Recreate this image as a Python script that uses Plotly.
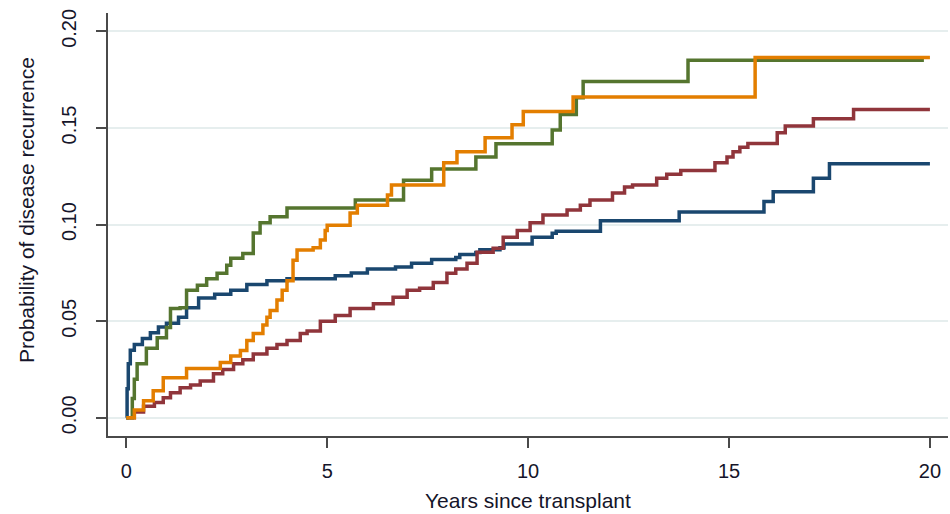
import plotly.graph_objects as go

# ---- data ----
blue_x = [0, 0.02, 0.05, 0.1, 0.2, 0.4, 0.6, 0.8, 1.0, 1.3, 1.5, 1.8, 2.2, 2.6, 3.0, 3.5,
          4.0, 5.2, 5.6, 6.0, 6.7, 7.1, 7.6, 8.2, 8.3, 8.7, 8.8, 9.3, 9.4, 10.1, 10.6, 10.7,
          11.8, 13.76, 15.87, 16.1, 17.1, 17.5, 20]
blue_y = [0, 0.015, 0.028, 0.035, 0.038, 0.041, 0.044, 0.047, 0.049, 0.052, 0.057, 0.062,
          0.064, 0.066, 0.069, 0.071, 0.072, 0.0735, 0.075, 0.077, 0.078, 0.080, 0.082, 0.083,
          0.0845, 0.0855, 0.087, 0.088, 0.090, 0.0935, 0.0955, 0.0966, 0.102, 0.1065, 0.112,
          0.117, 0.124, 0.1315, 0.1315]

red_x = [0, 0.2, 0.43, 0.7, 0.92, 1.1, 1.34, 1.6, 1.84, 2.17, 2.4, 2.67, 2.9, 3.16, 3.5, 3.75,
         4.0, 4.33, 4.5, 4.83, 5.2, 5.57, 6.15, 6.64, 6.99, 7.3, 7.64, 7.98, 8.2, 8.48, 8.73,
         9.13, 9.38, 9.73, 10.05, 10.37, 10.97, 11.3, 11.54, 12.1, 12.4, 12.6, 13.2, 13.45,
         13.8, 14.65, 14.95, 15.1, 15.27, 15.47, 16.2, 16.4, 17.1, 18.1, 20]
red_y = [0, 0.003, 0.006, 0.008, 0.0104, 0.013, 0.0156, 0.017, 0.019, 0.0228, 0.025, 0.028,
         0.030, 0.033, 0.036, 0.038, 0.040, 0.0436, 0.045, 0.050, 0.053, 0.0566, 0.059, 0.0624,
         0.066, 0.067, 0.070, 0.0748, 0.077, 0.080, 0.0857, 0.0878, 0.0935, 0.097, 0.101,
         0.105, 0.1075, 0.110, 0.1127, 0.1163, 0.1195, 0.1205, 0.124, 0.126, 0.128, 0.132,
         0.135, 0.1377, 0.140, 0.142, 0.1475, 0.151, 0.1548, 0.1595, 0.1595]

green_x = [0, 0.15, 0.2, 0.27, 0.5, 0.77, 1.0, 1.1, 1.34, 1.5, 1.77, 2.0, 2.26, 2.5, 2.6, 2.9,
           3.16, 3.33, 3.58, 4.0, 5.7, 6.9, 7.6, 8.7, 9.2, 10.6, 10.8, 11.2, 11.37, 13.98, 19.85]
green_y = [0, 0.01, 0.02, 0.028, 0.036, 0.0415, 0.0467, 0.0566, 0.057, 0.066, 0.0686, 0.072,
           0.0748, 0.079, 0.0826, 0.085, 0.0956, 0.101, 0.104, 0.1086, 0.1127, 0.123, 0.1288,
           0.135, 0.1418, 0.149, 0.157, 0.1657, 0.174, 0.185, 0.185]

orange_x = [0, 0.2, 0.43, 0.67, 0.92, 1.5, 2.34, 2.6, 2.84, 3.0, 3.16, 3.4, 3.5, 3.58, 3.75,
            3.88, 4.0, 4.15, 4.25, 4.65, 4.83, 4.95, 5.0, 5.57, 5.75, 6.5, 6.6, 7.9, 8.23,
            8.93, 9.6, 9.88, 11.12, 15.65, 20]
orange_y = [0, 0.004, 0.0088, 0.014, 0.0208, 0.0255, 0.0286, 0.032, 0.0348, 0.040, 0.0436,
            0.048, 0.052, 0.0556, 0.061, 0.066, 0.071, 0.0815, 0.0868, 0.088, 0.092, 0.097,
            0.0997, 0.106, 0.110, 0.1153, 0.1205, 0.132, 0.1377, 0.145, 0.1517, 0.1585, 0.166,
            0.1865, 0.1865]

x_ticks = [0, 5, 10, 15, 20]
y_ticks = [0.00, 0.05, 0.10, 0.15, 0.20]
y_tick_labels = ["0.00", "0.05", "0.10", "0.15", "0.20"]
x_title = "Years since transplant"
y_title = "Probability of disease recurrence"

series = [
    (blue_x, blue_y, "#1a476f"),
    (red_x, red_y, "#90353b"),
    (green_x, green_y, "#55752f"),
    (orange_x, orange_y, "#e37e00"),
]

FONT = "Liberation Sans, Arial, sans-serif"
TXT = "#15152a"
FS = 20
FT = 21

fig = go.Figure()
for xs, ys, col in series:
    fig.add_trace(go.Scatter(x=xs, y=ys, mode="lines", line=dict(color=col, width=3.5, shape="hv"),
                             showlegend=False, hoverinfo="skip"))

fig.update_layout(
    width=950, height=514,
    margin=dict(l=108, r=2, t=13, b=78),
    paper_bgcolor="white", plot_bgcolor="white",
    font=dict(family=FONT, size=FS, color=TXT),
    showlegend=False,
)
fig.update_xaxes(
    range=[-0.455, 20.45], tickmode="array", tickvals=x_ticks,
    showgrid=False, zeroline=False,
    showline=True, linecolor="#4a4a4a", linewidth=2,
    ticks="outside", ticklen=10, tickwidth=2, tickcolor="#4a4a4a",
    ticklabelstandoff=6,
    tickfont=dict(size=FS, color=TXT, family=FONT),
)
fig.update_yaxes(
    range=[-0.0094, 0.2095], tickmode="array", tickvals=y_ticks, ticktext=y_tick_labels,
    showgrid=True, gridcolor="#e6eeee", gridwidth=1.5, zeroline=False,
    showline=True, linecolor="#4a4a4a", linewidth=2,
    ticks="outside", ticklen=10, tickwidth=2, tickcolor="#4a4a4a",
    tickangle=-90, ticklabelstandoff=12,
    tickfont=dict(size=FS, color=TXT, family=FONT),
)
fig.add_annotation(text=y_title, xref="paper", yref="paper",
                   x=(26 - 108) / (948 - 108), y=(436 - 210) / (436 - 13),
                   xanchor="center", yanchor="middle", textangle=-90, showarrow=False,
                   font=dict(size=FT, color=TXT, family=FONT))
fig.add_annotation(text=x_title, xref="paper", yref="paper",
                   x=0.5, y=(436 - 501) / (436 - 13),
                   xanchor="center", yanchor="middle", showarrow=False,
                   font=dict(size=FT, color=TXT, family=FONT))

fig.write_html("out.html", config={"displayModeBar": False},
               post_script="document.body.style.margin='0';document.body.style.overflow='hidden';")
